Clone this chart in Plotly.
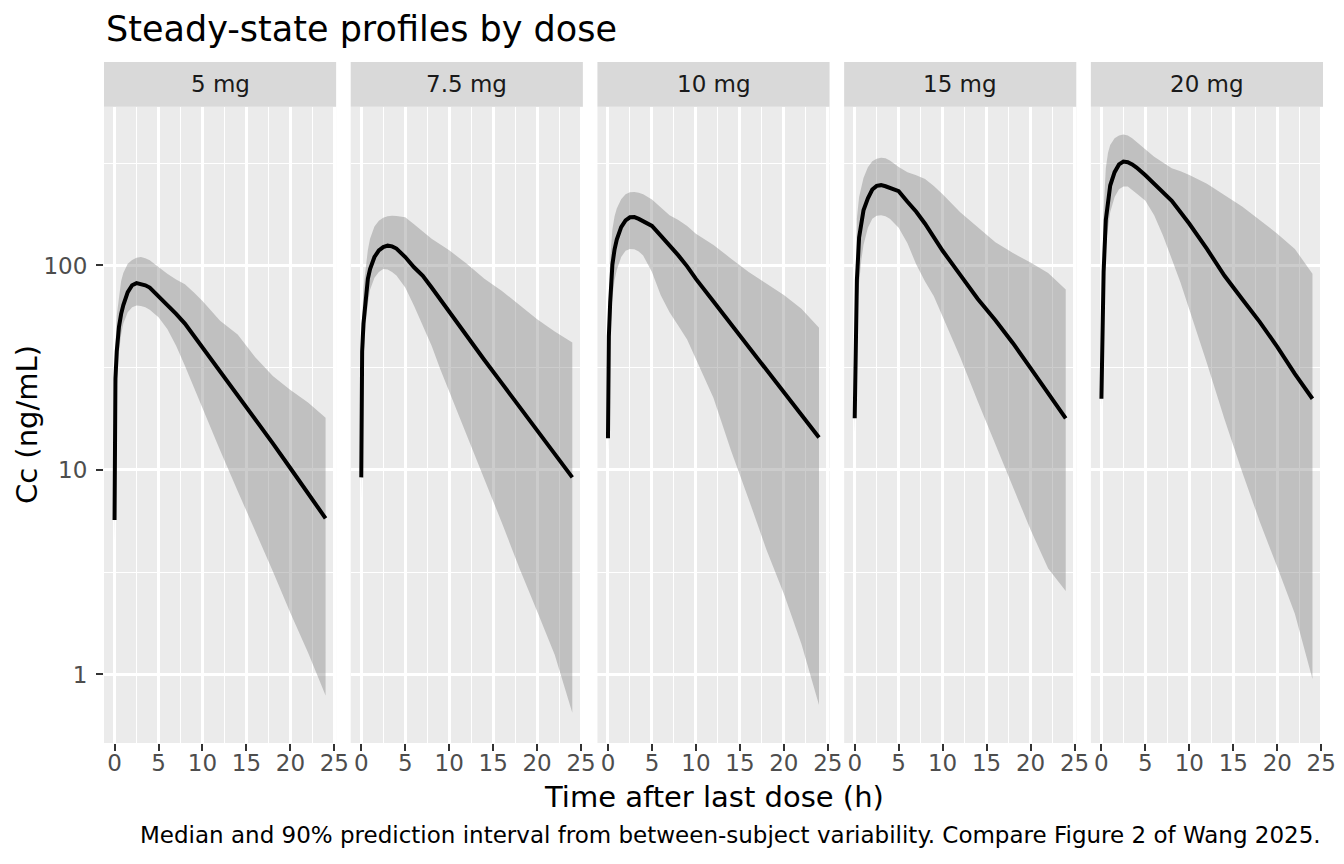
import plotly.graph_objects as go

# time grid (h) and facet labels
times = [0, 0.1, 0.25, 0.5, 0.75, 1, 1.5, 2, 2.5, 3, 3.5, 4, 5, 6, 7, 8, 9, 10, 12, 14, 16, 18, 20, 22, 24]
doses = ['5 mg', '7.5 mg', '10 mg', '15 mg', '20 mg']

# 5 mg
med_5 = [5.7, 28, 38, 50, 58, 64, 74, 80, 82, 81, 80, 78, 71, 64, 58, 52, 45.5, 40, 30.3, 23.2, 17.8, 13.5, 10.2, 7.7, 5.8]
hi_5 = [7, 40, 57, 72, 84, 92, 102, 106.5, 109, 110, 108.5, 106, 98, 91, 85.5, 81, 74, 67, 53.7, 46, 35.6, 28.8, 24.6, 21.4, 18]
lo_5 = [4.5, 15, 25, 38, 46, 52, 59, 62.5, 63.7, 63.4, 62.5, 60.8, 55.8, 48.9, 40.5, 32.3, 25.8, 20.2, 12.5, 7.9, 5.0, 3.2, 2.0, 1.28, 0.79]
# 7.5 mg
med_75 = [9.2, 38, 52, 71, 86, 96, 110, 118.5, 123, 125, 124, 121, 110, 98, 89, 78, 68, 59, 45, 34.5, 26.5, 20.3, 15.6, 12, 9.2]
hi_75 = [10.5, 55, 78, 100, 119, 135, 155, 165.5, 171, 174, 175, 174.5, 172, 159, 147, 135, 126.5, 118.6, 102, 86, 75, 64, 54.6, 47.5, 42]
lo_75 = [7, 20, 35, 52, 65, 76, 87, 93, 96, 95.5, 93, 89.4, 78, 63.5, 51, 40.5, 31, 24, 15, 9.0, 5.5, 3.3, 2.04, 1.25, 0.65]
# 10 mg
med_10 = [14.3, 45, 66, 101, 120, 134, 154, 166, 172, 172.5, 169, 165, 156, 140, 126, 112, 99, 86, 66.6, 51.6, 40, 31, 24, 18.6, 14.4]
hi_10 = [16.5, 60, 106, 150, 174, 190, 211, 223, 228, 229, 227, 223, 210, 192, 176, 167, 156, 143, 126, 108, 93, 81.6, 71.7, 61.5, 49.6]
lo_10 = [12, 25, 45, 70, 85, 95, 110, 118, 120.5, 120, 117, 112, 93, 71.6, 59, 50.7, 43.5, 35, 22.5, 12.4, 7.2, 4.1, 2.48, 1.41, 0.71]
# 15 mg
med_15 = [17.9, 46, 85, 137, 163, 186, 213, 235, 245, 247, 244, 240, 231, 205, 183, 160, 137, 118, 90, 68.6, 54, 41.7, 31.5, 23.8, 17.9]
hi_15 = [19.5, 70, 170, 216, 246, 268, 302, 323, 333, 336, 334, 326, 303, 286, 276, 265, 245, 223, 182, 153, 130, 115, 103.5, 92, 76.4]
lo_15 = [15, 30, 60, 82, 106, 126, 153, 169, 175, 176, 174, 169, 153, 128.5, 101, 83.4, 70.8, 56.2, 35.6, 21.6, 13.2, 8.2, 5.1, 3.3, 2.56]
# 20 mg
med_20 = [22.3, 55, 93, 167, 211, 246, 286, 312, 322, 320, 312, 301, 276, 251, 230, 207, 182, 160, 120.5, 89, 68.6, 53, 40, 29.5, 22.3]
hi_20 = [24, 90, 186, 299, 356, 388, 419, 432, 437, 432, 419, 401, 371, 340, 319, 299, 289, 277, 251, 221, 194, 167, 143, 120.5, 91]
lo_20 = [20, 40, 80, 126, 153, 182, 216, 236, 243, 243, 235, 225, 207, 176, 140, 107.6, 82.3, 61.5, 33.3, 17.7, 9.8, 5.6, 3.35, 1.98, 0.95]

medians = [med_5, med_75, med_10, med_15, med_20]
uppers = [hi_5, hi_75, hi_10, hi_15, hi_20]
lowers = [lo_5, lo_75, lo_10, lo_15, lo_20]

font_family = 'DejaVu Sans'
panel_w = 0.19043
gap = (1 - 5 * panel_w) / 4
y_top = 0.9344

fig = go.Figure()

for i, dose in enumerate(doses):
    n = '' if i == 0 else str(i + 1)
    fig.add_trace(go.Scatter(
        x=times + times[::-1],
        y=uppers[i] + lowers[i][::-1],
        fill='toself',
        fillcolor='rgba(127,127,127,0.4)',
        line=dict(width=0),
        mode='lines',
        hoverinfo='skip',
        showlegend=False,
        xaxis='x' + n, yaxis='y' + n,
    ))
    fig.add_trace(go.Scatter(
        x=times, y=medians[i],
        mode='lines',
        line=dict(color='black', width=4),
        name=dose,
        showlegend=False,
        xaxis='x' + n, yaxis='y' + n,
    ))

    x0 = i * (panel_w + gap)
    x1 = x0 + panel_w
    fig.update_layout({
        'xaxis' + n: dict(
            domain=[x0, x1], anchor='y' + n, range=[-1.2, 25.2],
            automargin=False, ticklabeloverflow='allow',
            tickvals=[0, 5, 10, 15, 20, 25],
            ticks='outside', ticklen=7, tickwidth=2, tickcolor='#333333',
            ticklabelstandoff=-8,
            tickfont=dict(family=font_family, size=23, color='#4D4D4D'),
            showgrid=True, gridcolor='white', gridwidth=2.5,
            minor=dict(tickvals=[2.5, 7.5, 12.5, 17.5, 22.5], showgrid=True,
                       gridcolor='white', gridwidth=1.2, ticks=''),
            zeroline=False, showline=False,
        ),
        'yaxis' + n: dict(
            domain=[0, y_top], anchor='x' + n, type='log',
            range=[-0.335, 2.7765],
            automargin=False,
            tickvals=[1, 10, 100], ticktext=['1', '10', '100'],
            showticklabels=(i == 0),
            ticks='outside' if i == 0 else '', ticklen=7, tickwidth=2, tickcolor='#333333',
            ticklabelstandoff=4,
            tickfont=dict(family=font_family, size=23, color='#4D4D4D'),
            showgrid=True, gridcolor='white', gridwidth=2.5,
            minor=dict(tickvals=[3.1623, 31.623, 316.23], showgrid=True,
                       gridcolor='white', gridwidth=1.2, ticks=''),
            zeroline=False, showline=False,
        ),
    })
    # facet strip
    fig.add_shape(type='rect', xref='paper', yref='paper',
                  x0=x0, x1=x1, y0=y_top, y1=1,
                  fillcolor='#D9D9D9', line_width=0, layer='below')
    fig.add_annotation(text=dose, xref='paper', yref='paper',
                       x=(x0 + x1) / 2, y=(y_top + 1) / 2,
                       xanchor='center', yanchor='middle', showarrow=False,
                       font=dict(family=font_family, size=23, color='#1A1A1A'))

fig.add_annotation(text='Steady-state profiles by dose', xref='paper', yref='paper',
                   x=0, y=1.0485, xanchor='left', yanchor='middle', showarrow=False,
                   font=dict(family=font_family, size=35, color='black'))
fig.add_annotation(text='Time after last dose (h)', xref='paper', yref='paper',
                   x=0.5, y=-0.0793, xanchor='center', yanchor='middle', showarrow=False,
                   font=dict(family=font_family, size=29, color='black'))
fig.add_annotation(text='Cc (ng/mL)', xref='paper', yref='paper',
                   x=-0.063, y=y_top / 2, xanchor='center', yanchor='middle',
                   textangle=-90, showarrow=False,
                   font=dict(family=font_family, size=29, color='black'))
fig.add_annotation(text='Median and 90% prediction interval from between-subject variability. '
                        'Compare Figure 2 of Wang 2025.',
                   xref='paper', yref='paper',
                   x=1, y=-0.1351, xanchor='right', yanchor='middle', showarrow=False,
                   font=dict(family=font_family, size=23, color='black'))

# page body keeps an 8px margin all round, so the figure is 16px narrower than the window
fig.update_layout(
    width=1328, height=840,
    margin=dict(l=96, r=13, t=54, b=105, autoexpand=False),
    paper_bgcolor='white',
    plot_bgcolor='#EBEBEB',
    font=dict(family=font_family),
)

fig.write_html('out.html')
